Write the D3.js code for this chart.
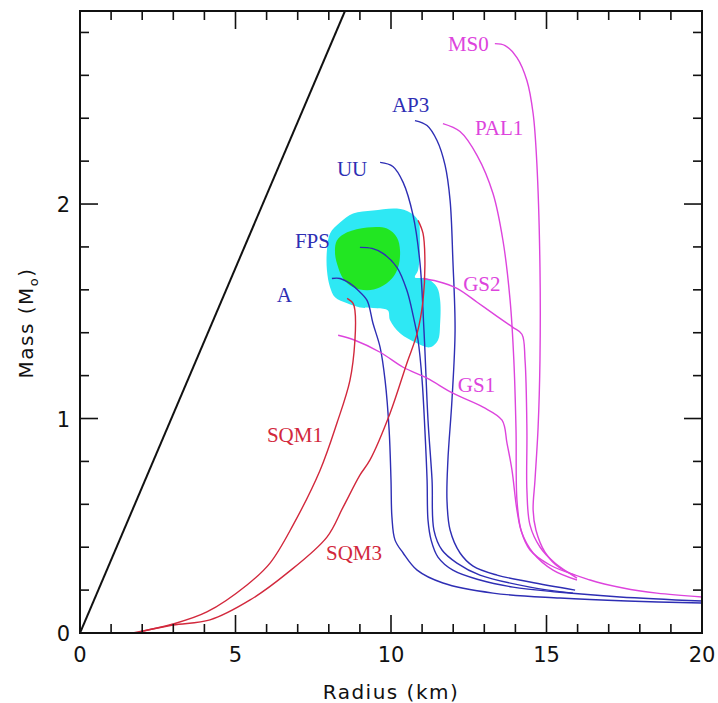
<!DOCTYPE html>
<html><head><meta charset="utf-8">
<script src="https://cdn.jsdelivr.net/npm/d3@7"></script>
<style>body{margin:0;background:#fff}</style>
</head><body><svg id="c" width="718" height="703"></svg>
<script>
// ---- data (Radius km, Mass Msun) ----
const xTicks = [0, 5, 10, 15, 20];
const yTicks = [0, 1, 2];
const blackLine = [[0, 0], [8.52, 2.9]];
const cyanRegion = [[8.36,1.914],[8.78,1.956],[9.42,1.970],[10.19,1.979],[10.61,1.961],[10.87,1.924],[10.93,1.830],[10.87,1.691],[10.77,1.658],[11.16,1.653],[11.48,1.612],[11.58,1.551],[11.58,1.444],[11.51,1.365],[11.25,1.332],[10.84,1.351],[10.29,1.397],[9.97,1.458],[9.90,1.504],[9.55,1.514],[9.00,1.518],[8.59,1.537],[8.20,1.565],[8.04,1.612],[7.94,1.691],[7.94,1.784],[8.04,1.863]];
const greenRegion = [[8.26,1.830],[8.59,1.868],[9.23,1.891],[9.87,1.886],[10.19,1.844],[10.29,1.784],[10.23,1.705],[10.03,1.653],[9.65,1.612],[9.23,1.598],[8.78,1.612],[8.46,1.653],[8.30,1.705],[8.20,1.770]];
const curveA = [[8.10,1.653],[8.36,1.653],[8.68,1.630],[8.94,1.598],[9.23,1.551],[9.42,1.444],[9.65,1.332],[9.81,1.178],[9.94,0.946],[10.00,0.713],[10.03,0.540],[10.13,0.433],[10.39,0.373],[10.84,0.293],[11.67,0.233],[13.28,0.186],[15.43,0.163],[17.59,0.149],[20.0,0.140]];
const curveFPS = [[9.00,1.798],[9.39,1.793],[9.74,1.770],[10.19,1.705],[10.51,1.598],[10.71,1.481],[10.87,1.365],[11.00,1.178],[11.09,0.946],[11.16,0.713],[11.19,0.526],[11.29,0.433],[11.51,0.354],[11.99,0.293],[12.86,0.247],[13.92,0.214],[15.34,0.191],[17.36,0.168],[20.0,0.149]];
const curveUU = [[9.65,2.194],[10.06,2.175],[10.39,2.101],[10.71,1.947],[10.93,1.728],[11.06,1.411],[11.19,0.992],[11.32,0.713],[11.38,0.480],[11.64,0.387],[12.12,0.326],[12.86,0.270],[14.47,0.214],[15.85,0.186]];
const curveAP3 = [[10.77,2.389],[11.16,2.366],[11.48,2.296],[11.74,2.180],[11.90,2.017],[11.99,1.737],[12.06,1.411],[11.96,1.085],[11.83,0.806],[11.80,0.619],[11.90,0.480],[12.22,0.373],[12.64,0.312],[13.41,0.270],[14.47,0.238],[15.92,0.200]];
const curvePAL1 = [[11.67,2.375],[12.22,2.338],[12.77,2.226],[13.28,2.049],[13.60,1.830],[13.83,1.551],[13.95,1.272],[14.02,0.946],[14.05,0.619],[14.18,0.480],[14.47,0.387],[15.11,0.317],[15.92,0.270]];
const curveMS0 = [[13.34,2.748],[13.67,2.739],[14.05,2.683],[14.37,2.576],[14.57,2.422],[14.69,2.189],[14.79,1.705],[14.79,1.272],[14.73,0.959],[14.63,0.713],[14.57,0.573],[14.66,0.480],[14.95,0.377],[15.43,0.303],[16.40,0.247],[17.46,0.210],[18.55,0.186],[20.0,0.168]];
const curveGS2 = [[11.03,1.653],[11.48,1.640],[12.12,1.607],[12.77,1.542],[13.41,1.476],[13.92,1.425],[14.21,1.393],[14.31,1.272],[14.37,0.946],[14.37,0.666],[14.47,0.503],[14.79,0.401],[15.27,0.326],[15.98,0.256]];
const curveGS1 = [[8.30,1.388],[8.84,1.365],[9.65,1.309],[10.39,1.239],[11.16,1.188],[11.99,1.118],[12.96,1.053],[13.57,0.992],[13.73,0.885],[13.89,0.759],[14.05,0.573],[14.21,0.466],[14.57,0.373],[15.21,0.293],[15.98,0.247]];
const curveSQM1 = [[1.70,0.0],[2.99,0.042],[4.08,0.098],[5.37,0.224],[6.11,0.326],[6.85,0.503],[7.72,0.759],[8.26,0.978],[8.68,1.178],[8.84,1.365],[8.84,1.504],[8.78,1.537],[8.59,1.560]];
const curveSQM3 = [[1.93,0.005],[2.99,0.037],[4.18,0.061],[5.47,0.154],[6.66,0.279],[7.94,0.447],[8.46,0.587],[9.00,0.736],[9.32,0.806],[9.97,1.025],[10.51,1.258],[10.84,1.397],[11.03,1.551],[11.09,1.737],[11.03,1.863],[10.87,1.924]];
const labelNames = ["MS0","AP3","PAL1","UU","FPS","A","GS2","GS1","SQM1","SQM3"];

// ---- layout / style ----
const W = 718, H = 703;
const x = d3.scaleLinear().domain([0, 20]).range([80, 702]);
const y = d3.scaleLinear().domain([0, 2.9]).range([633, 11]);
const BLUE = "#2e2eb4", MAG = "#dd44dd", RED = "#d2283c";
const series = [
  {d: curveA, c: BLUE}, {d: curveFPS, c: BLUE}, {d: curveUU, c: BLUE}, {d: curveAP3, c: BLUE},
  {d: curvePAL1, c: MAG}, {d: curveMS0, c: MAG}, {d: curveGS2, c: MAG}, {d: curveGS1, c: MAG},
  {d: curveSQM1, c: RED}, {d: curveSQM3, c: RED}
];
const labelPos = {
  MS0:[11.83,2.715,MAG], AP3:[10.03,2.427,BLUE], PAL1:[12.70,2.324,MAG], UU:[8.26,2.133,BLUE],
  FPS:[6.91,1.793,BLUE], A:[6.33,1.542,BLUE], GS2:[12.32,1.593,MAG], GS1:[12.15,1.123,MAG],
  SQM1:[6.01,0.890,RED], SQM3:[7.91,0.340,RED]
};

const svg = d3.select("#c");
svg.append("defs").append("clipPath").attr("id","clip")
  .append("rect").attr("x",80).attr("y",11).attr("width",622).attr("height",622);
const plot = svg.append("g").attr("clip-path","url(#clip)");

const area = d3.line().x(d=>x(d[0])).y(d=>y(d[1])).curve(d3.curveCatmullRomClosed.alpha(0.5));
plot.append("path").attr("d", area(cyanRegion)).attr("fill","#2ee8f4");
plot.append("path").attr("d", area(greenRegion)).attr("fill","#22e622");

const line = d3.line().x(d=>x(d[0])).y(d=>y(d[1])).curve(d3.curveCatmullRom.alpha(0.5));
plot.append("path").attr("d", d3.line().x(d=>x(d[0])).y(d=>y(d[1]))(blackLine))
  .attr("stroke","#111").attr("stroke-width",2).attr("fill","none");
series.forEach(s=>{
  plot.append("path").attr("d", line(s.d)).attr("stroke", s.c).attr("stroke-width",1.4).attr("fill","none");
});

labelNames.forEach(n=>{
  const p = labelPos[n];
  svg.append("text").attr("x", x(p[0])).attr("y", y(p[1])).text(n)
    .attr("fill", p[2]).attr("font-family","Liberation Serif, serif").attr("font-size",21);
});

// axes
const xMinor = d3.range(0, 21, 1), yMinor = d3.range(0, 2.9, 0.2);
const ax = svg.append("g").attr("stroke","#111");
xMinor.forEach(v=>{
  const L = (v % 5 === 0) ? 18 : 9;
  ax.append("line").attr("x1",x(v)).attr("x2",x(v)).attr("y1",633).attr("y2",633-L).attr("stroke-width",1.6);
  ax.append("line").attr("x1",x(v)).attr("x2",x(v)).attr("y1",11).attr("y2",11+L).attr("stroke-width",1.6);
});
yMinor.forEach(v=>{
  const major = Math.abs(v - Math.round(v)) < 1e-6;
  const L = major ? 18 : 9;
  ax.append("line").attr("y1",y(v)).attr("y2",y(v)).attr("x1",80).attr("x2",80+L).attr("stroke-width",1.6);
  ax.append("line").attr("y1",y(v)).attr("y2",y(v)).attr("x1",702).attr("x2",702-L).attr("stroke-width",1.6);
});
svg.append("rect").attr("x",80).attr("y",11).attr("width",622).attr("height",622)
  .attr("fill","none").attr("stroke","#111").attr("stroke-width",2);

const tf = "DejaVu Sans, sans-serif";
xTicks.forEach(v=>{
  svg.append("text").attr("x",x(v)).attr("y",662).attr("text-anchor","middle")
    .attr("font-family",tf).attr("font-size",21).attr("fill","#111").text(v);
});
yTicks.forEach(v=>{
  svg.append("text").attr("x",70).attr("y",y(v)+8).attr("text-anchor","end")
    .attr("font-family",tf).attr("font-size",21).attr("fill","#111").text(v);
});
svg.append("text").attr("x",391).attr("y",699).attr("text-anchor","middle")
  .attr("font-family",tf).attr("font-size",20).attr("letter-spacing",1.5).attr("fill","#111")
  .text("Radius (km)");
const yl = svg.append("text").attr("transform","translate(33,323) rotate(-90)").attr("text-anchor","middle")
  .attr("font-family",tf).attr("font-size",20).attr("letter-spacing",1.5).attr("fill","#111");
yl.append("tspan").text("Mass (M");
yl.append("tspan").attr("font-size",13).attr("dy",5).text("o");
yl.append("tspan").attr("dy",-5).text(")");
</script></body></html>
